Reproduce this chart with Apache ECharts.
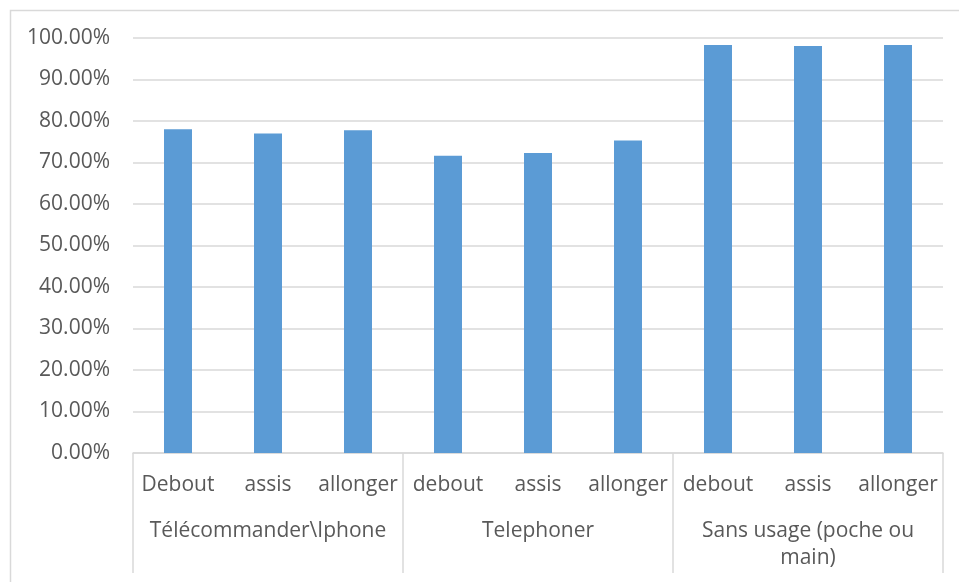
<!DOCTYPE html>
<html>
<head>
<meta charset="utf-8">
<script src="https://cdn.jsdelivr.net/npm/echarts@6/dist/echarts.min.js"></script>
<style>html,body{margin:0;padding:0;background:#fff}#c{width:959px;height:582px}</style>
</head>
<body>
<div id="c"></div>
<script>
const positions = ['Debout','assis','allonger','debout','assis','allonger','debout','assis','allonger'];
const groups = ['Télécommander\\Iphone','Telephoner','Sans usage (poche ou main)'];
const values = [0.780, 0.770, 0.778, 0.716, 0.723, 0.753, 0.983, 0.981, 0.983];
const yTicks = [0, 0.1, 0.2, 0.3, 0.4, 0.5, 0.6, 0.7, 0.8, 0.9, 1.0];

function wrap(s, n) {
  const words = s.split(' ');
  const lines = [];
  let cur = '';
  for (const w of words) {
    const t = cur ? cur + ' ' + w : w;
    if (t.length > n && cur) { lines.push(cur); cur = w; } else cur = t;
  }
  if (cur) lines.push(cur);
  return lines.join('\n');
}

const font = 'Open Sans';
const fs = 21;
const txt = '#595959';
const grid = '#d9d9d9';
const chart = echarts.init(document.getElementById('c'));
chart.setOption({
  animation: false,
  graphic: [{
    type: 'rect', shape: {x: 10.5, y: 10.5, width: 980, height: 620},
    style: {fill: 'none', stroke: grid, lineWidth: 1.5}, silent: true, z: -1
  }],
  grid: {left: 133, right: 16, top: 38, bottom: 129},
  xAxis: [{
    type: 'category', data: positions, position: 'bottom',
    axisLine: {show: true, lineStyle: {color: grid, width: 1.5}},
    axisTick: {show: false},
    axisLabel: {color: txt, fontFamily: font, fontSize: fs, margin: 19, lineHeight: 27, interval: 0}
  }, {
    type: 'category', data: groups, position: 'bottom', gridIndex: 0,
    axisLine: {show: false},
    axisTick: {show: true, length: 120, lineStyle: {color: grid, width: 1.5}},
    axisLabel: {color: txt, fontFamily: font, fontSize: fs, margin: 65, lineHeight: 27, interval: 0,
      formatter: v => wrap(v, 20)}
  }],
  yAxis: {
    type: 'value', min: yTicks[0], max: yTicks[yTicks.length - 1], interval: 0.1,
    axisLine: {show: false}, axisTick: {show: false},
    splitLine: {lineStyle: {color: grid, width: 1.5}},
    axisLabel: {color: txt, fontFamily: font, fontSize: fs, margin: 23,
      formatter: v => (v * 100).toFixed(2) + '%'}
  },
  series: [{
    type: 'bar', data: values, barWidth: 28, xAxisIndex: 0,
    itemStyle: {color: '#5b9bd5'}
  }]
});
</script>
</body>
</html>
